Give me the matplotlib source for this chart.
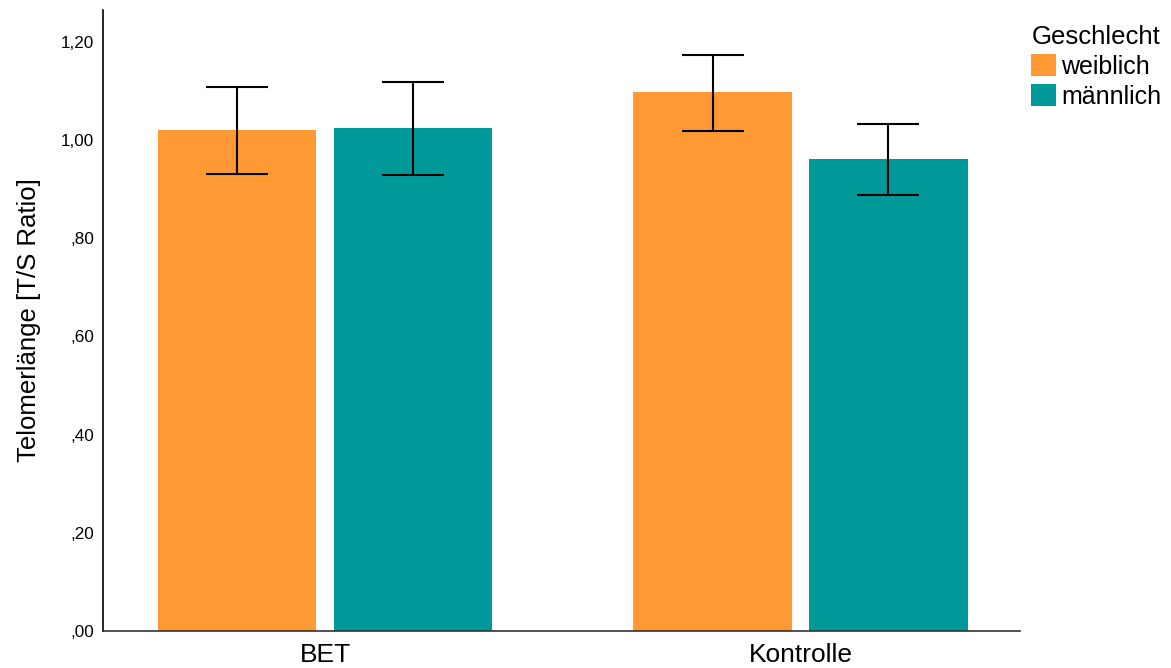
import numpy as np
import matplotlib
matplotlib.use("Agg")
import matplotlib.pyplot as plt
from matplotlib.ticker import FuncFormatter

plt.rcParams['font.family'] = ['Liberation Sans', 'DejaVu Sans']

# mean telomere length (T/S ratio) with error bar limits
groups = ["BET", "Kontrolle"]
sexes = ["weiblich", "männlich"]
means = {
    "weiblich": [1.020, 1.098],
    "männlich": [1.024, 0.961],
}
err_low = {
    "weiblich": [0.931, 1.019],
    "männlich": [0.929, 0.888],
}
err_high = {
    "weiblich": [1.109, 1.174],
    "männlich": [1.119, 1.032],
}
colors = {"weiblich": "#FF9933", "männlich": "#009999"}
yticks = [0.0, 0.2, 0.4, 0.6, 0.8, 1.0, 1.2]

fig = plt.figure(figsize=(11.71, 6.68), dpi=100)
ax = fig.add_axes([0.088, 0.0554, 0.783, 0.9296])

x = np.arange(len(groups))
width = 0.333
offsets = {"weiblich": -0.185, "männlich": 0.185}

for s in sexes:
    m = np.array(means[s])
    lo = m - np.array(err_low[s])
    hi = np.array(err_high[s]) - m
    ax.bar(x + offsets[s], m, width, color=colors[s], label=s, zorder=2)
    ax.errorbar(x + offsets[s], m, yerr=[lo, hi], fmt="none", ecolor="black",
                elinewidth=1.5, capsize=22, capthick=1.5, zorder=3)

ax.set_xlim(-0.467, 1.4616)
ax.set_ylim(0, 1.265)
ax.set_xticks(x)
ax.set_xticklabels(groups, fontsize=19)
ax.set_yticks(yticks)


def komma(v, pos):
    s = f"{v:.2f}".replace(".", ",")
    return s[1:] if s.startswith("0") else s


ax.yaxis.set_major_formatter(FuncFormatter(komma))
ax.tick_params(axis="y", length=0, labelsize=12.3, pad=6.5)
ax.tick_params(axis="x", length=0, pad=9)
ax.set_ylabel("Telomerlänge [T/S Ratio]", fontsize=18.5, labelpad=14)

for side in ["top", "right"]:
    ax.spines[side].set_visible(False)
ax.spines["left"].set_linewidth(1.2)
ax.spines["bottom"].set_linewidth(1.2)
ax.spines["bottom"].set_color("#333333")

leg = ax.legend(title="Geschlecht", fontsize=18, title_fontsize=18.5,
                frameon=False, loc="upper left", bbox_to_anchor=(0.996, 1.0),
                handlelength=1.0, handleheight=1.0, handletextpad=0.2,
                labelspacing=0.2, borderaxespad=0.2)
leg._legend_box.align = "left"

fig.savefig("out.png", dpi=100)
